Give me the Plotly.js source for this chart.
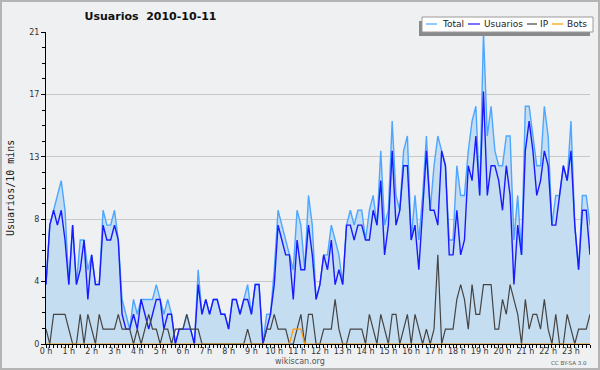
<!DOCTYPE html>
<html>
<head>
<meta charset="utf-8">
<script src="https://cdn.plot.ly/plotly-3.0.1.min.js"></script>
<style>
html,body{margin:0;padding:0;background:#eff0f2;}
#wrap{position:relative;width:600px;height:370px;}
#chart{width:600px;height:370px;}
#frame{position:absolute;left:0;top:0;width:596px;height:366px;border:2px solid #b4b4b4;pointer-events:none;}
</style>
</head>
<body>
<div id="wrap"><div id="chart"></div><div id="frame"></div></div>
<script>
// 10-minute slots, index 0 = 00:00 ... 143 = 23:50
const total = [
4,8,9,10,11,9,4,8,4,7,
7,5,6,4,4,9,8,8,9,7,
3,2,1,3,2,3,3,3,3,4,
3,2,3,2,0,1,1,2,1,0,
5,2,3,2,3,3,2,2,1,3,
3,2,3,4,2,4,4,0,2,2,
5,9,8,7,6,5,9,8,5,10,
8,3,4,6,6,8,7,6,4,8,
9,8,9,9,7,9,10,8,13,8,
9,15,10,9,13,14,7,10,7,10,
14,9,12,14,13,12,7,7,12,10,
10,13,15,16,10,21,14,16,13,12,
12,14,14,7,10,6,16,16,14,12,
12,16,14,8,10,10,12,11,15,8,
5,10,10,8];
const usuarios = [
4,8,9,8,9,7,4,8,4,5,
7,3,6,4,4,8,7,7,8,7,
2,1,1,2,1,3,2,1,2,3,
3,1,2,2,0,1,1,1,1,0,
4,2,3,2,3,3,2,2,1,3,
3,2,3,3,2,4,4,0,1,2,
4,8,7,6,6,3,7,5,5,8,
6,3,4,6,5,7,4,5,4,8,
8,7,8,8,7,7,9,8,11,6,
8,13,8,9,12,12,7,8,5,9,
13,9,9,8,13,12,6,6,9,6,
7,12,11,14,10,17,10,12,12,11,
9,12,10,4,8,6,13,15,13,10,
11,13,12,8,8,10,12,11,13,8,
5,9,9,6];
const ip = [
1,0,2,2,2,2,1,0,0,2,
0,2,1,0,2,1,1,1,1,2,
1,1,1,0,1,0,1,2,1,1,
0,1,1,0,1,1,1,2,1,1,
1,0,0,0,0,0,0,0,0,0,
0,0,0,1,0,0,0,0,1,1,
2,1,1,1,0,0,1,2,0,2,
2,0,0,1,1,1,3,1,0,0,
1,1,1,1,0,2,1,0,2,1,
0,2,2,0,1,2,0,2,1,0,
1,0,1,6,0,1,1,1,3,4,
3,1,4,2,2,4,4,4,1,1,
3,2,4,3,2,0,3,1,2,2,
1,3,1,0,2,0,0,2,1,0,
1,1,1,2];
const bots = [
0,0,0,0,0,0,0,0,0,0,
0,0,0,0,0,0,0,0,0,0,
0,0,0,0,0,0,0,0,0,0,
0,0,0,0,0,0,0,0,0,0,
0,0,0,0,0,0,0,0,0,0,
0,0,0,0,0,0,0,0,0,0,
0,0,0,0,0,1,1,1,0,0,
0,0,0,0,0,0,0,0,0,0,
0,0,0,0,0,0,0,0,0,0,
0,0,0,0,0,0,0,0,0,0,
0,0,0,0,0,0,0,0,0,0,
0,0,0,0,0,0,0,0,0,0,
0,0,0,0,0,0,0,0,0,0,
0,0,0,0,0,0,0,0,0,0,
0,0,0,0];
const hourTickVals = [0,6,12,18,24,30,36,42,48,54,60,66,72,78,84,90,96,102,108,114,120,126,132,138];
const hourTickText = ['0 h','1 h','2 h','3 h','4 h','5 h','6 h','7 h','8 h','9 h','10 h','11 h','12 h','13 h','14 h','15 h','16 h','17 h','18 h','19 h','20 h','21 h','22 h','23 h'];
const yTickVals = [0,4.2,8.4,12.6,16.8,21];
const yTickText = ['0','4','8','13','17','21'];
const seriesNames = ['Total','Usuarios','IP','Bots'];
const seriesColors = ['#4da6ff','#1a1aff','#444444','#ff9900'];

const slots = total.map((_, i) => i);

const L = 46, R = 10, T = 32, B = 26, W = 600, H = 370;
const PW = W - L - R, PH = H - T - B;
const fx = px => (px - L) / PW;
const fy = py => (H - B - py) / PH;

const traces = [
  {x: slots, y: total, type: 'scatter', mode: 'lines', name: seriesNames[0],
   fill: 'tozeroy', fillcolor: '#c5ddf1', line: {color: seriesColors[0], width: 1.4}},
  {x: slots, y: usuarios, type: 'scatter', mode: 'lines', name: seriesNames[1],
   line: {color: seriesColors[1], width: 1.4}},
  {x: slots, y: ip, type: 'scatter', mode: 'lines', name: seriesNames[2],
   line: {color: seriesColors[2], width: 1.2}},
  {x: slots, y: bots, type: 'scatter', mode: 'lines', name: seriesNames[3],
   line: {color: seriesColors[3], width: 1.2}}
];

// legend drawn as box with shadow
const legY = 24;
const legLines = [[426,437],[468,480],[527,537],[552,563]];
const legTextX = [442,484,540,567];
const shapes = [
  {type:'rect', xref:'paper', yref:'paper', x0:fx(419), x1:fx(590), y0:fy(21), y1:fy(36),
   fillcolor:'#8a8a8a', line:{width:0}, layer:'above'},
  {type:'rect', xref:'paper', yref:'paper', x0:fx(422), x1:fx(593), y0:fy(17), y1:fy(32),
   fillcolor:'#ffffff', line:{color:'#9a9a9a', width:1}, layer:'above'}
];
legLines.forEach((s, k) => shapes.push({type:'line', xref:'paper', yref:'paper',
  x0:fx(s[0]), x1:fx(s[1]), y0:fy(legY), y1:fy(legY), line:{color:seriesColors[k], width:1.2}, layer:'above'}));

const annotations = [];
seriesNames.forEach((n, k) => annotations.push({text:n, xref:'paper', yref:'paper',
  x:fx(legTextX[k]-2), y:fy(legY), xanchor:'left', yanchor:'middle', showarrow:false,
  font:{family:'DejaVu Sans', size:9, color:'#222'}}));
annotations.push({text:'Usuarios/10 mins', xref:'paper', yref:'paper', x:fx(10), y:fy(188),
  xanchor:'center', yanchor:'middle', textangle:-90, showarrow:false,
  font:{family:'DejaVu Sans Mono', size:10, color:'#222'}});
annotations.push({text:'wikiscan.org', xref:'paper', yref:'paper', x:fx(300), y:fy(361),
  xanchor:'center', yanchor:'middle', showarrow:false,
  font:{family:'DejaVu Sans', size:8, color:'#555'}});
annotations.push({text:'CC BY-SA 3.0', xref:'paper', yref:'paper', x:fx(569), y:fy(362.5),
  xanchor:'center', yanchor:'middle', showarrow:false,
  font:{family:'DejaVu Sans', size:5.5, color:'#555'}});

const layout = {
  width: W, height: H,
  margin: {l: L, r: R, t: T, b: B, pad: 0},
  paper_bgcolor: '#eff0f2', plot_bgcolor: '#eff0f2',
  showlegend: false,
  title: {text: '<b>Usuarios\u00a0\u00a02010-10-11</b>', x: 150.5 / W, xref: 'container', xanchor: 'center',
          y: 1 - 16.5 / H, yref: 'container', yanchor: 'middle',
          font: {family: 'DejaVu Sans', size: 11, color: '#111'}},
  xaxis: {range: [0, 143], tickmode: 'array', tickvals: hourTickVals, ticktext: hourTickText,
          ticks: 'outside', ticklen: 3, tickcolor: '#000', tickwidth: 1, ticklabelstandoff: -4,
          showline: true, linecolor: '#000', linewidth: 1, showgrid: false, zeroline: false,
          tickfont: {family: 'DejaVu Sans', size: 8, color: '#333'},
          minor: {tickmode: 'linear', tick0: 0, dtick: 1, ticks: 'outside', ticklen: 3, tickcolor: '#000', showgrid: false},
          fixedrange: true},
  yaxis: {range: [0, 21], tickmode: 'array', tickvals: yTickVals, ticktext: yTickText,
          ticks: 'outside', ticklen: 4, tickcolor: '#000', tickwidth: 1,
          showline: true, linecolor: '#000', linewidth: 1,
          showgrid: true, gridcolor: '#c8c8c8', gridwidth: 1, zeroline: false,
          tickfont: {family: 'DejaVu Sans', size: 8, color: '#333'},
          minor: {tickmode: 'linear', tick0: 0, dtick: 1.05, ticks: 'outside', ticklen: 3, tickcolor: '#000', showgrid: false},
          fixedrange: true},
  shapes: shapes,
  annotations: annotations
};

Plotly.newPlot('chart', traces, layout, {staticPlot: true, displayModeBar: false});
</script>
</body>
</html>
